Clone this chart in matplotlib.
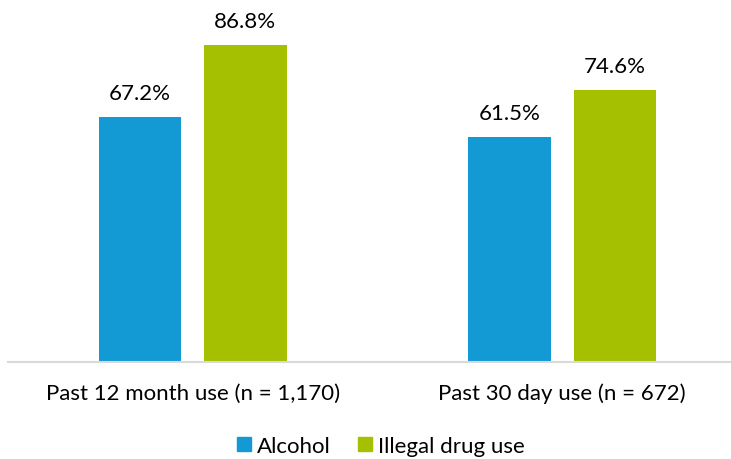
import matplotlib
matplotlib.use("Agg")
import matplotlib.pyplot as plt
import numpy as np

plt.rcParams['font.family'] = ['Lato', 'DejaVu Sans']

categories = ["Past 12 month use (n = 1,170)", "Past 30 day use (n = 672)"]
series_names = ["Alcohol", "Illegal drug use"]
alcohol = [67.2, 61.5]
illegal = [86.8, 74.6]
colors = ["#1399D3", "#A5C000"]

W, H = 731, 460
fig = plt.figure(figsize=(W / 100, H / 100), dpi=100)
# axes spans the full plot area; right edge lies past the canvas
left, right = 8, 747
bottom, top = 363, 16
ax = fig.add_axes([left / W, (H - bottom) / H, (right - left) / W, (bottom - top) / H])

x = np.arange(len(categories))
width = 0.2225
offset = 0.1425
for vals, off, col, name in [(alcohol, -offset, colors[0], series_names[0]),
                             (illegal, offset, colors[1], series_names[1])]:
    bars = ax.bar(x + off, vals, width, color=col, label=name)
    for b, v in zip(bars, vals):
        ax.annotate(f"{v:.1f}%", (b.get_x() + b.get_width() / 2, v),
                    xytext=(0, 10), textcoords="offset points",
                    ha="center", va="bottom", fontsize=16, color="#000000")

ax.set_xlim(-0.5, 1.5)
ax.set_ylim(0, 95)
for s in ["top", "right", "left"]:
    ax.spines[s].set_visible(False)
ax.spines["bottom"].set_color("#D9D9D9")
ax.spines["bottom"].set_linewidth(1.5)
ax.set_yticks([])
ax.set_xticks(x)
ax.set_xticklabels(categories, fontsize=16)
ax.tick_params(axis="x", length=0, pad=15)

handles = [plt.Rectangle((0, 0), 1, 1, color=c) for c in colors]
fig.legend(handles, series_names, loc="center", bbox_to_anchor=(381 / W, 1 - 447 / H),
           ncol=2, frameon=False, fontsize=16, handlelength=0.63, handleheight=0.63,
           handletextpad=0.27, columnspacing=1.25, borderaxespad=0)

fig.savefig("out.png", dpi=100)
